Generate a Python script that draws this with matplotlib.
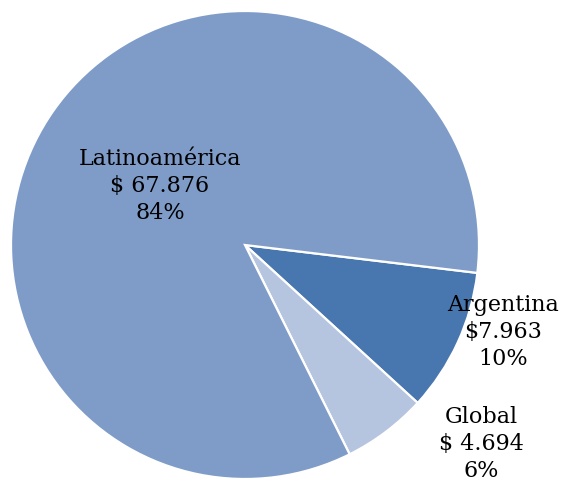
import matplotlib
matplotlib.use("Agg")
import matplotlib.pyplot as plt

categories = ["Argentina", "Global", "Latinoamérica"]
values = [7963, 4694, 67876]
value_labels = ["$7.963", "$ 4.694", "$ 67.876"]
pct_labels = ["10%", "6%", "84%"]
colors = ["#4877B0", "#B5C4DF", "#7F9CC8"]

W, H = 563, 483
fig = plt.figure(figsize=(W / 100, H / 100), dpi=100)
cx, cy, r = 245, 245, 234
ax = fig.add_axes([(cx - r) / W, (H - cy - r) / H, 2 * r / W, 2 * r / H])
ax.pie(values, colors=colors, startangle=-6.85, counterclock=False,
       radius=1, wedgeprops=dict(edgecolor="white", linewidth=1.6))
ax.set_xlim(-1, 1)
ax.set_ylim(-1, 1)
ax.set_aspect("equal")
ax.axis("off")

def px(x, y):
    return (x - cx) / r, (cy - y) / r

label_pos = {"Argentina": (503, 332), "Global": (481, 444), "Latinoamérica": (160, 186)}
for cat, vl, pl in zip(categories, value_labels, pct_labels):
    x, y = px(*label_pos[cat])
    ax.text(x, y, f"{cat}\n{vl.replace('$', chr(92) + '$')}\n{pl}", ha="center", va="center",
            fontsize=16, family="DejaVu Serif", linespacing=1.3, clip_on=False)

fig.savefig("out.png", dpi=100)
